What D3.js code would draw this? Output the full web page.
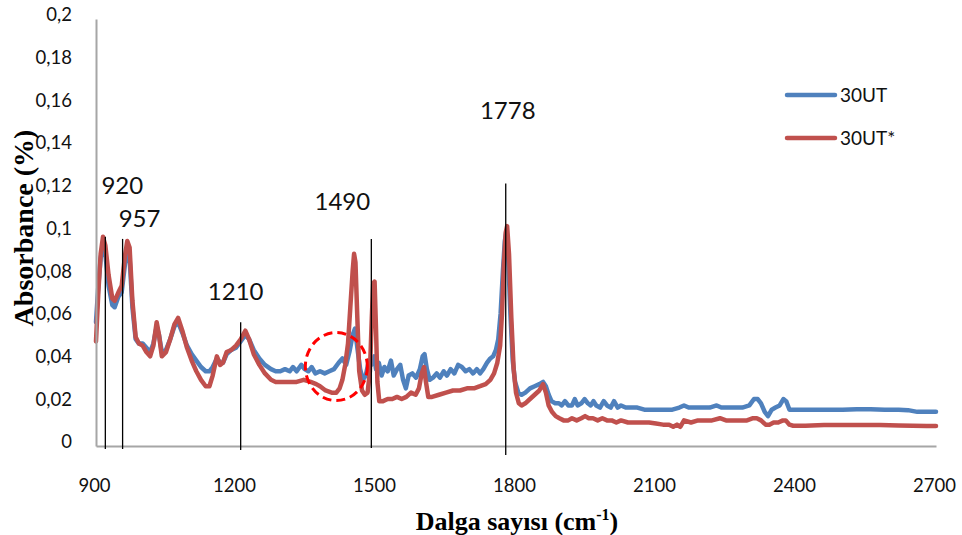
<!DOCTYPE html>
<html>
<head>
<meta charset="utf-8">
<script src="https://cdn.jsdelivr.net/npm/d3@7/dist/d3.min.js"></script>
<style>
  html, body { margin: 0; padding: 0; background: #fff; }
  svg { display: block; }
</style>
</head>
<body>
<svg id="chart" width="962" height="535"></svg>
<script>
// FTIR spectra: wavenumber (cm-1) vs absorbance
const seriesNames = ["30UT", "30UT*"];

const ut30 = [
  [900,0.058],[905,0.075],[910,0.088],[915,0.094],[920,0.090],[927,0.075],[935,0.066],[940,0.065],
  [948,0.070],[955,0.072],[962,0.085],[967,0.092],[972,0.088],[978,0.065],[985,0.050],[992,0.048],
  [1000,0.048],[1008,0.046],[1016,0.044],[1023,0.048],[1030,0.056],[1035,0.052],[1041,0.044],[1050,0.045],
  [1059,0.050],[1068,0.056],[1076,0.058],[1085,0.053],[1095,0.047],[1105,0.043],[1115,0.040],[1125,0.037],
  [1135,0.035],[1143,0.035],[1150,0.037],[1159,0.041],[1166,0.039],[1172,0.039],[1180,0.043],[1190,0.045],
  [1200,0.046],[1210,0.049],[1220,0.052],[1228,0.050],[1238,0.045],[1250,0.041],[1262,0.038],[1275,0.036],
  [1285,0.035],[1295,0.035],[1305,0.036],[1315,0.035],[1322,0.037],[1330,0.035],[1340,0.038],[1347,0.036],
  [1355,0.035],[1362,0.037],[1370,0.034],[1380,0.035],[1390,0.034],[1400,0.035],[1410,0.036],[1420,0.039],
  [1428,0.041],[1436,0.038],[1443,0.044],[1450,0.052],[1455,0.055],[1460,0.046],[1466,0.036],[1472,0.031],
  [1478,0.033],[1485,0.040],[1490,0.038],[1496,0.042],[1500,0.036],[1506,0.039],[1512,0.033],[1518,0.037],
  [1525,0.035],[1532,0.040],[1538,0.033],[1545,0.036],[1552,0.038],[1558,0.031],[1564,0.027],[1570,0.033],
  [1578,0.034],[1586,0.032],[1594,0.036],[1600,0.042],[1604,0.043],[1609,0.036],[1615,0.031],[1622,0.032],
  [1630,0.034],[1637,0.032],[1645,0.035],[1652,0.033],[1660,0.036],[1668,0.034],[1676,0.038],[1684,0.037],
  [1692,0.035],[1700,0.036],[1708,0.034],[1716,0.036],[1723,0.034],[1730,0.036],[1738,0.039],[1745,0.041],
  [1751,0.042],[1757,0.045],[1762,0.050],[1767,0.062],[1772,0.082],[1776,0.096],[1779,0.100],[1783,0.090],
  [1788,0.062],[1793,0.040],[1798,0.030],[1805,0.025],[1812,0.024],[1820,0.025],[1830,0.027],[1840,0.028],
  [1850,0.029],[1858,0.030],[1864,0.028],[1870,0.024],[1876,0.021],[1884,0.020],[1892,0.020],[1898,0.019],
  [1905,0.021],[1912,0.019],[1920,0.019],[1926,0.022],[1932,0.019],[1940,0.020],[1947,0.022],[1954,0.020],
  [1960,0.019],[1966,0.021],[1972,0.019],[1980,0.018],[1988,0.021],[1995,0.019],[2003,0.018],[2010,0.021],
  [2018,0.018],[2025,0.019],[2035,0.018],[2045,0.018],[2060,0.018],[2075,0.017],[2090,0.017],[2105,0.017],
  [2120,0.017],[2135,0.017],[2150,0.018],[2160,0.019],[2170,0.018],[2185,0.018],[2200,0.018],[2215,0.018],
  [2230,0.019],[2240,0.018],[2255,0.018],[2270,0.018],[2285,0.018],[2300,0.019],[2310,0.022],[2318,0.022],
  [2325,0.020],[2333,0.016],[2340,0.014],[2348,0.017],[2356,0.018],[2365,0.019],[2373,0.022],[2379,0.021],
  [2386,0.017],[2394,0.017],[2410,0.017],[2440,0.017],[2470,0.017],[2500,0.017],[2530,0.0172],[2560,0.0172],
  [2590,0.017],[2620,0.017],[2640,0.0168],[2660,0.016],[2680,0.016],[2700,0.016]
];

const ut30star = [
  [900,0.049],[905,0.072],[910,0.090],[915,0.098],[920,0.094],[927,0.080],[935,0.069],[940,0.068],
  [948,0.072],[955,0.075],[962,0.089],[967,0.096],[972,0.093],[978,0.068],[985,0.051],[992,0.048],
  [1000,0.047],[1008,0.044],[1016,0.042],[1023,0.047],[1030,0.058],[1035,0.052],[1041,0.042],[1050,0.044],
  [1059,0.050],[1068,0.057],[1076,0.060],[1085,0.054],[1095,0.046],[1105,0.040],[1115,0.035],[1125,0.031],
  [1135,0.028],[1143,0.028],[1150,0.033],[1159,0.042],[1166,0.038],[1172,0.039],[1180,0.044],[1190,0.045],
  [1200,0.047],[1210,0.050],[1220,0.054],[1228,0.050],[1238,0.043],[1250,0.038],[1262,0.034],[1275,0.031],
  [1285,0.030],[1300,0.030],[1315,0.030],[1330,0.030],[1345,0.031],[1360,0.030],[1372,0.029],[1380,0.028],
  [1392,0.026],[1405,0.025],[1415,0.025],[1422,0.027],[1428,0.031],[1434,0.038],[1440,0.048],[1445,0.065],
  [1450,0.082],[1453,0.090],[1456,0.086],[1460,0.060],[1464,0.035],[1470,0.026],[1476,0.024],[1482,0.025],
  [1487,0.035],[1491,0.060],[1494,0.076],[1497,0.077],[1500,0.055],[1503,0.030],[1507,0.021],[1515,0.021],
  [1525,0.022],[1535,0.022],[1545,0.023],[1555,0.022],[1565,0.023],[1575,0.025],[1585,0.024],[1592,0.027],
  [1598,0.034],[1603,0.037],[1607,0.030],[1612,0.023],[1620,0.023],[1635,0.024],[1650,0.025],[1665,0.026],
  [1680,0.026],[1695,0.027],[1710,0.027],[1723,0.028],[1735,0.029],[1745,0.031],[1753,0.034],[1760,0.039],
  [1766,0.047],[1770,0.062],[1774,0.085],[1778,0.100],[1781,0.103],[1785,0.090],[1790,0.060],[1795,0.036],
  [1800,0.025],[1806,0.020],[1812,0.019],[1820,0.020],[1830,0.022],[1840,0.024],[1850,0.026],[1858,0.029],
  [1864,0.025],[1870,0.019],[1877,0.016],[1885,0.014],[1893,0.013],[1902,0.012],[1912,0.012],[1920,0.013],
  [1930,0.012],[1940,0.013],[1948,0.014],[1956,0.013],[1965,0.013],[1975,0.012],[1985,0.013],[1995,0.012],
  [2005,0.012],[2015,0.011],[2025,0.012],[2040,0.011],[2055,0.011],[2070,0.011],[2085,0.011],[2100,0.0105],
  [2115,0.010],[2128,0.010],[2137,0.009],[2145,0.010],[2152,0.009],[2160,0.012],[2175,0.011],[2190,0.012],
  [2205,0.012],[2220,0.012],[2237,0.013],[2250,0.012],[2265,0.012],[2280,0.012],[2295,0.012],[2308,0.013],
  [2316,0.013],[2325,0.012],[2335,0.010],[2343,0.010],[2352,0.011],[2362,0.011],[2372,0.012],[2378,0.012],
  [2386,0.010],[2394,0.0095],[2420,0.0095],[2460,0.0098],[2500,0.0098],[2540,0.0098],[2580,0.0098],[2620,0.0096],
  [2650,0.0095],[2680,0.0094],[2700,0.0094]
];

// Axis ticks
const xTicks = [900, 1200, 1500, 1800, 2100, 2400, 2700];
const yTicks = [0, 0.02, 0.04, 0.06, 0.08, 0.1, 0.12, 0.14, 0.16, 0.18, 0.2];
const yTickLabels = ["0", "0,02", "0,04", "0,06", "0,08", "0,1", "0,12", "0,14", "0,16", "0,18", "0,2"];

// Peak markers: wavenumber and height of the marker line top
const peakLabels = ["920", "957", "1210", "1490", "1778"];
const peakWavenumbers = [920, 957, 1210, 1490, 1778];
const peakTops = [0.098, 0.097, 0.058, 0.097, 0.123];

// Highlighted region (dashed circle centre)
const highlightCentre = [1415, 0.0372];

// ---- layout ----
const colors = ["#4f81bd", "#c0504d"];
const axisColor = "#a6a6a6";
const svg = d3.select("#chart");

const x = d3.scaleLinear().domain([900, 2700]).range([96, 936]);
const y = d3.scaleLinear().domain([0, 0.2]).range([446, 19]);

// label offsets (px) relative to each marker line top
const peakLabelDx = [17, 17, -5, -29, 2];
const peakLabelDy = [-43, -12, -22, -29, -64];
const peakLineBottom = [3, 3, 4, 2, 9];

// Series lines
const line = d3.line().x(d => x(d[0])).y(d => y(d[1])).curve(d3.curveLinear);
[ut30, ut30star].forEach((s, i) => {
  svg.append("path")
    .datum(s)
    .attr("d", line)
    .attr("fill", "none")
    .attr("stroke", colors[i])
    .attr("stroke-width", 4.5)
    .attr("stroke-linejoin", "round")
    .attr("stroke-linecap", "round");
});

// Axes
const xAxis = d3.axisBottom(x).tickValues(xTicks).tickSize(0).tickFormat(d3.format("d"));
const gx = svg.append("g").attr("transform", `translate(0,${y(0)})`).call(xAxis);
gx.select(".domain").attr("stroke", axisColor).attr("stroke-width", 2);
gx.selectAll("text")
  .attr("dy", null).attr("y", 46).attr("dx", -2)
  .attr("fill", "#111")
  .style("font-family", "Lato, 'Open Sans', sans-serif")
  .style("font-size", "18.5px");

const yAxis = d3.axisLeft(y).tickValues(yTicks).tickSize(0).tickFormat((d, i) => yTickLabels[i]);
const gy = svg.append("g").attr("transform", `translate(${x(900)},0)`).call(yAxis);
gy.select(".domain").attr("stroke", axisColor).attr("stroke-width", 2);
gy.selectAll("text")
  .attr("x", -24).attr("dy", "0.1em")
  .attr("fill", "#111")
  .style("font-family", "Lato, 'Open Sans', sans-serif")
  .style("font-size", "18.5px");

// Peak marker lines and labels
peakWavenumbers.forEach((w, i) => {
  svg.append("line")
    .attr("x1", x(w)).attr("x2", x(w))
    .attr("y1", y(peakTops[i])).attr("y2", y(0) + peakLineBottom[i])
    .attr("stroke", "#000").attr("stroke-width", 1.3);
  svg.append("text")
    .attr("x", x(w) + peakLabelDx[i])
    .attr("y", y(peakTops[i]) + peakLabelDy[i])
    .attr("text-anchor", "middle")
    .attr("fill", "#111")
    .style("font-family", "Lato, 'Open Sans', sans-serif")
    .style("font-size", "24px")
    .text(peakLabels[i]);
});

// Dashed circle around the region of interest
svg.append("ellipse")
  .attr("cx", x(highlightCentre[0])).attr("cy", y(highlightCentre[1]))
  .attr("rx", 31).attr("ry", 34)
  .attr("fill", "none")
  .attr("stroke", "#ff0000")
  .attr("stroke-width", 3)
  .attr("stroke-dasharray", "9,5");

// Legend
const legend = svg.append("g");
seriesNames.forEach((name, i) => {
  const ly = 95 + i * 43;
  legend.append("line")
    .attr("x1", 787).attr("x2", 835).attr("y1", ly).attr("y2", ly)
    .attr("stroke", colors[i]).attr("stroke-width", 4.5).attr("stroke-linecap", "round");
  legend.append("text")
    .attr("x", 840).attr("y", ly + 7)
    .attr("fill", "#111")
    .style("font-family", "Lato, 'Open Sans', sans-serif")
    .style("font-size", "19px")
    .text(name);
});

// Axis titles
svg.append("text")
  .attr("transform", "translate(33,228) rotate(-90)")
  .attr("text-anchor", "middle")
  .attr("fill", "#000")
  .style("font-family", "'Liberation Serif', 'DejaVu Serif', serif")
  .style("font-weight", "bold")
  .style("font-size", "28px")
  .text("Absorbance (%)");

const xt = svg.append("text")
  .attr("x", 517).attr("y", 530)
  .attr("text-anchor", "middle")
  .attr("fill", "#000")
  .style("font-family", "'Liberation Serif', 'DejaVu Serif', serif")
  .style("font-weight", "bold")
  .style("font-size", "26px");
xt.append("tspan").text("Dalga sayısı (cm");
xt.append("tspan").attr("dy", -10).style("font-size", "16px").text("-1");
xt.append("tspan").attr("dy", 10).text(")");
</script>
</body>
</html>
